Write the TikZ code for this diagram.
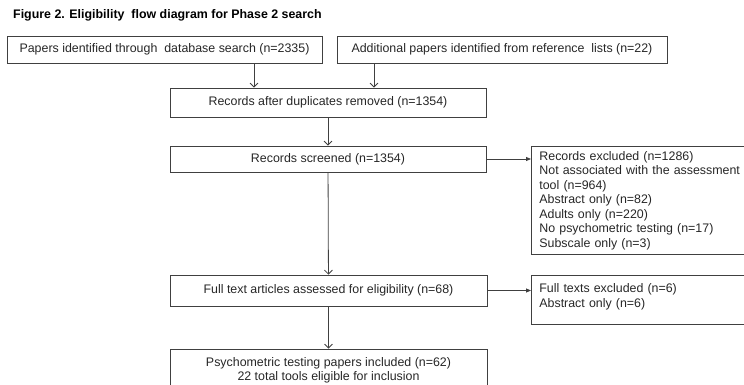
\documentclass[tikz,border=0pt]{standalone}
\usepackage{fontspec}
\setmainfont{Liberation Sans}
\usetikzlibrary{arrows.meta}
\definecolor{linegray}{HTML}{404040}
\begin{document}
\begin{tikzpicture}[x=1pt,y=-1pt,
  box/.style={draw=linegray,line width=0.8pt,inner sep=0pt,align=center,
    font=\fontsize{12.4}{14}\selectfont,text=black!85},
  exbox/.style={draw=linegray,line width=0.8pt,inner sep=0pt,align=left,anchor=north west,
    font=\fontsize{12.4}{14.5}\selectfont,text=black!85},
  vline/.style={draw=linegray,line width=0.8pt},
  varrow/.style={vline,-{Straight Barb[length=4pt,width=8pt,line width=0.8pt]}},
  harrow/.style={vline,-{Triangle[length=5pt,width=4pt]}}]
\useasboundingbox (0,0) rectangle (744,384);
\clip (0,0) rectangle (744,384);
\node[anchor=base west,font=\bfseries\fontsize{12.4}{14}\selectfont,inner sep=0pt] (title) at (13,18.5)
  {Figure 2. Eligibility\ \ flow diagram for Phase 2 search};
\node[box,minimum width=315,minimum height=27] (b1) at (164.5,49.5)
  {Papers identified through\ \ database search (n=2335)};
\node[box,minimum width=330,minimum height=27] (b2) at (502,49.5)
  {Additional papers identified from reference\ \ lists (n=22)};
\node[box,minimum width=316,minimum height=29] (b3) at (328,102.5)
  {Records after duplicates removed (n=1354)};
\node[box,minimum width=316,minimum height=26] (b4) at (328,159)
  {Records screened (n=1354)};
\node[box,minimum width=317,minimum height=31] (b5) at (328.5,290.5)
  {Full text articles assessed for eligibility (n=68)};
\node[box,minimum width=317,minimum height=43] (b6) at (328.5,370.5)
  {Psychometric testing papers included (n=62)\\22 total tools eligible for inclusion};
\node[exbox,minimum width=229,minimum height=108,text width=213,inner xsep=8pt] (e1) at (531,146)
  {Records excluded (n=1286)\\Not associated with the assessment\\tool (n=964)\\Abstract only\ (n=82)\\Adults only (n=220)\\No psychometric testing (n=17)\\Subscale only\ (n=3)};
\node[exbox,minimum width=229,minimum height=49,text width=213,inner xsep=8pt,text depth=23pt] (e2) at (531,275)
  {Full texts excluded (n=6)\\Abstract only\ (n=6)};
\coordinate (xa) at (254,0);
\coordinate (xb) at (374,0);
\draw[varrow] (b1.south -| xa) -- (b3.north -| xa);
\draw[varrow] (b2.south -| xb) -- (b3.north -| xb);
\draw[varrow] (b3) -- (b4);
\draw[varrow] (b4) -- (b5);
\draw[varrow] (b5) -- (b6);
\draw[harrow] (b4.east) -- (b4.east -| e1.west);
\draw[harrow] (b5.east) -- (b5.east -| e2.west);
\end{tikzpicture}
\end{document}
